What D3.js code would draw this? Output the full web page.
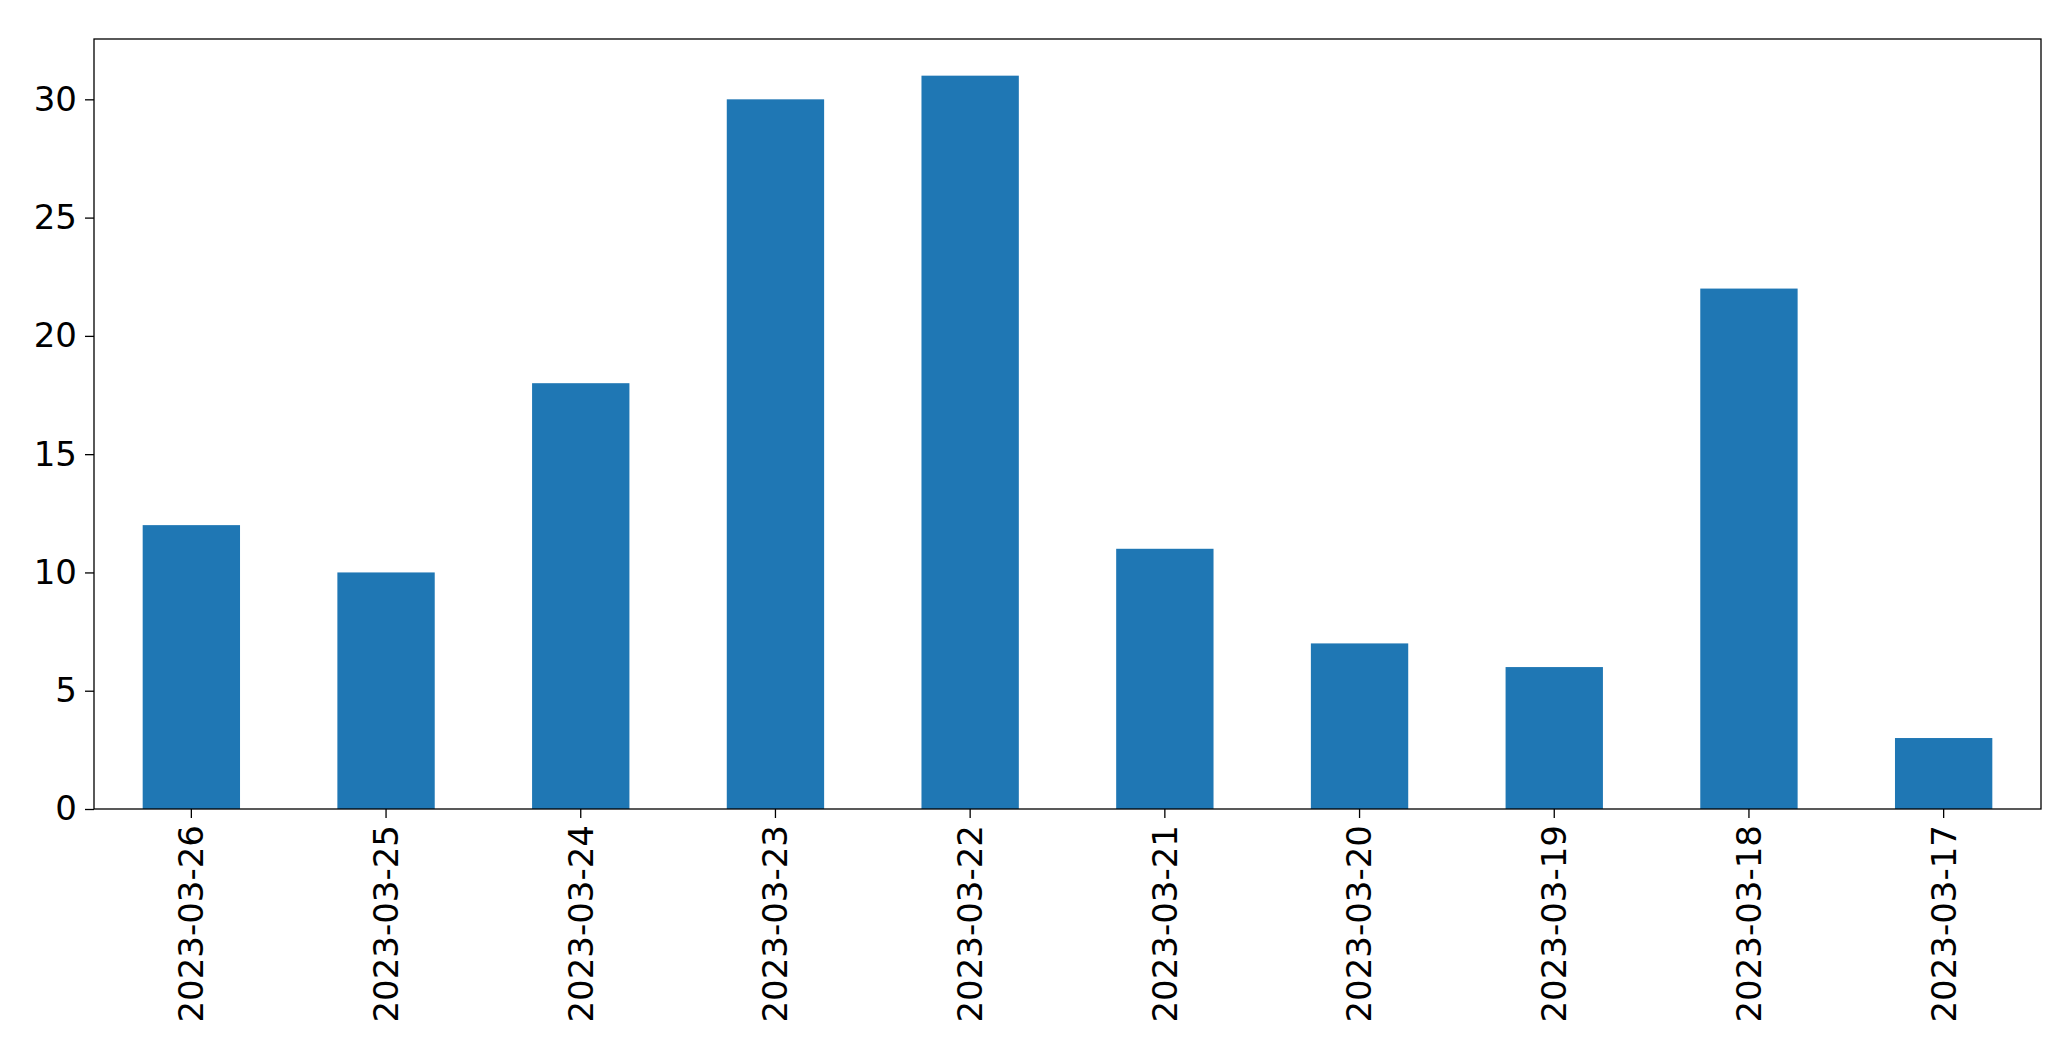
<!DOCTYPE html>
<html>
<head>
<meta charset="utf-8">
<script src="https://cdn.jsdelivr.net/npm/d3@7"></script>
<style>
body { margin: 0; background: #fff; }
text { font-family: "DejaVu Sans", sans-serif; }
</style>
</head>
<body>
<div></div>
<script>
const dates = ['2023-03-26', '2023-03-25', '2023-03-24', '2023-03-23', '2023-03-22',
               '2023-03-21', '2023-03-20', '2023-03-19', '2023-03-18', '2023-03-17'];
const counts = [12, 10, 18, 30, 31, 11, 7, 6, 22, 3];
const yTicks = [0, 5, 10, 15, 20, 25, 30];

const w = 2071, h = 1061;
const plotLeft = 94, plotRight = 2041, plotTop = 39, plotBottom = 809;

const svg = d3.select('div').append('svg')
    .attr('width', w)
    .attr('height', h);

const xScale = d3.scaleBand()
    .domain(dates)
    .range([plotLeft, plotRight])
    .paddingInner(0.5)
    .paddingOuter(0.25);

const yScale = d3.scaleLinear()
    .domain([0, d3.max(counts) * 1.05])
    .range([plotBottom, plotTop]);

svg.selectAll('rect.bar')
    .data(dates)
    .enter()
    .append('rect')
    .attr('class', 'bar')
    .attr('x', d => xScale(d))
    .attr('y', (d, i) => yScale(counts[i]))
    .attr('width', xScale.bandwidth())
    .attr('height', (d, i) => plotBottom - yScale(counts[i]))
    .attr('fill', '#1f77b4');

// frame
svg.append('rect')
    .attr('x', plotLeft).attr('y', plotTop)
    .attr('width', plotRight - plotLeft).attr('height', plotBottom - plotTop)
    .attr('fill', 'none').attr('stroke', '#000').attr('stroke-width', 1.3);

const xAxis = svg.append('g')
    .attr('transform', 'translate(0,' + plotBottom + ')')
    .call(d3.axisBottom(xScale).tickSize(9).tickPadding(8));
xAxis.select('.domain').remove();
xAxis.selectAll('text')
    .attr('font-size', 34)
    .attr('transform', 'rotate(-90)')
    .attr('text-anchor', 'end')
    .attr('x', -16)
    .attr('y', 0)
    .attr('dy', '0.35em');

const yAxis = svg.append('g')
    .attr('transform', 'translate(' + plotLeft + ',0)')
    .call(d3.axisLeft(yScale).tickValues(yTicks).tickSize(9).tickPadding(8));
yAxis.select('.domain').remove();
yAxis.selectAll('text').attr('font-size', 34);
svg.selectAll('.tick line').attr('stroke-width', 1.3);
</script>
</body>
</html>
